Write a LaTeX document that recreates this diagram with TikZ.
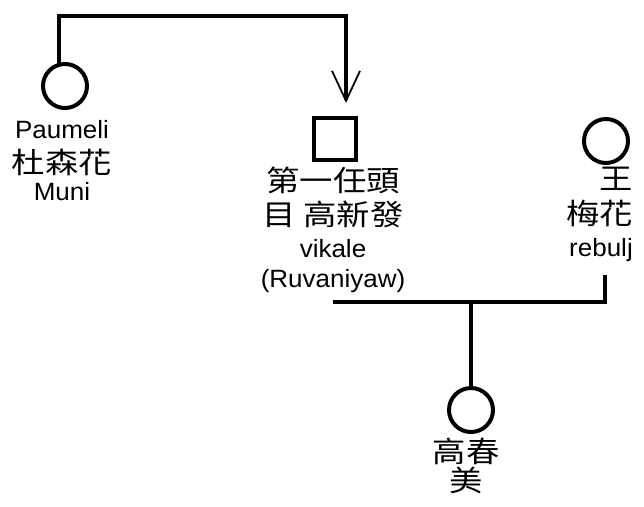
\documentclass[tikz,border=0pt]{standalone}
\usepackage{fontspec}
\setmainfont{Liberation Sans}[FakeStretch=1.04]
\newfontfamily\cjk[FakeStretch=1.15]{Noto Sans CJK TC}
\newcommand{\zh}[1]{{\cjk\fontsize{29}{32}\selectfont #1}}
\usetikzlibrary{arrows.meta, positioning, calc}

\begin{document}
\begin{tikzpicture}[x=1pt, y=-1pt]
    % --- Style Definitions ---
    \tikzset{
        % Family members
        person style/.style={
            draw=black,
            line width=4pt,
            inner sep=0pt,
            outer sep=0pt
        },
        female style/.style={person style, circle, minimum size=44pt},
        male style/.style={person style, rectangle, minimum size=42pt},
        % Names under the symbols
        name text/.style={
            inner sep=0pt,
            align=center,
            font=\fontsize{25}{32}\selectfont
        },
        % Lines of descent and marriage
        kin line/.style={line width=4pt, line cap=butt},
        adopt arrow/.style={
            kin line,
            -{Straight Barb[length=30pt, width=28pt, line width=1.8pt]}
        }
    }

    % white page
    \path[use as bounding box, fill=white] (0,0) rectangle (644,506);

    % ==========================================
    % PERSONS
    % ==========================================
    \node[female style] (paumeli) at (65,86) {};
    \node[male style] (vikale) at (335,139) {};
    \node[female style] (rebulj) at (606,141) {};
    \node[female style] (chunmei) at (471,410) {};

    % names
    \node[name text, anchor=north] (paumeli_name) at (62,120)
        {Paumeli\\[3pt] \zh{杜森花}\\[-5pt] Muni};
    \node[name text, anchor=north] (vikale_name) at (333,167)
        {\zh{第一任頭}\\[2pt] \zh{目 高新發}\\ vikale\\[-2pt] (Ruvaniyaw)};
    \node[name text, anchor=north east, align=right] (rebulj_name) at (633,167)
        {\zh{王}\\[3pt] \zh{梅花}\\ rebulj};
    \node[name text, anchor=north] (chunmei_name) at (466,438)
        {\zh{高春}\\[-3pt] \zh{美}};

    % ==========================================
    % CONNECTORS
    % ==========================================
    \coordinate (bend) at (346,16);
    \coordinate (adopt) at (346,103);
    \draw[adopt arrow] ([xshift=-6pt]paumeli.north) |- (bend) -- (adopt);

    % marriage line and descent
    \coordinate (husband_end) at (333,302);
    \coordinate (wife_end) at (605,275);
    \coordinate (couple) at (471,302);
    \draw[kin line] (husband_end) -| (wife_end);
    \draw[kin line] (couple) -- (chunmei.north);

\end{tikzpicture}
\end{document}
